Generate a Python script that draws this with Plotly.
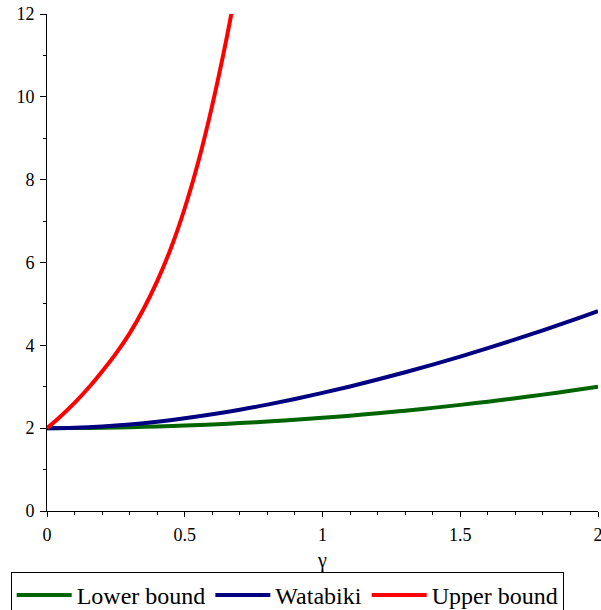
import plotly.graph_objects as go

# Data
gamma_lw = [0.0, 0.1, 0.2, 0.3, 0.4, 0.5, 0.6, 0.7, 0.8, 0.9, 1.0,
            1.1, 1.2, 1.3, 1.4, 1.5, 1.6, 1.7, 1.8, 1.9, 2.0]
lower_bound = [2.0, 2.0025, 2.01, 2.0225, 2.04, 2.0625, 2.09, 2.1225, 2.16, 2.2025, 2.25,
               2.3025, 2.36, 2.4225, 2.49, 2.5625, 2.64, 2.7225, 2.81, 2.9025, 3.0]
watabiki = [2.0, 2.010, 2.040, 2.088, 2.154, 2.237, 2.334, 2.445, 2.569, 2.705, 2.851,
            3.007, 3.174, 3.350, 3.535, 3.729, 3.931, 4.143, 4.363, 4.591, 4.828]

gamma_up = [0.0, 0.05, 0.1, 0.15, 0.2, 0.25, 0.3, 0.35, 0.4, 0.45, 0.5,
            0.55, 0.6, 0.65, 0.7]
upper_bound = [2.0, 2.29, 2.61, 2.97, 3.37, 3.80, 4.29, 4.87, 5.55, 6.35, 7.31,
               8.45, 9.80, 11.35, 13.1]

x_ticks = [0, 0.5, 1, 1.5, 2]
x_labels = ["0", "0.5", "1", "1.5", "2"]
y_ticks = [0, 2, 4, 6, 8, 10, 12]

serif = "Liberation Serif"

fig = go.Figure()
fig.add_trace(go.Scatter(x=gamma_lw, y=lower_bound, mode="lines", name="Lower bound",
                         line=dict(color="#006400", width=4, shape="spline")))
fig.add_trace(go.Scatter(x=gamma_lw, y=watabiki, mode="lines", name="Watabiki",
                         line=dict(color="#000080", width=4, shape="spline")))
fig.add_trace(go.Scatter(x=gamma_up, y=upper_bound, mode="lines", name="Upper bound",
                         line=dict(color="#ff0000", width=4, shape="spline")))

fig.update_layout(
    width=601, height=610,
    margin=dict(l=47, r=3, t=14, b=99, autoexpand=False),
    paper_bgcolor="white", plot_bgcolor="white",
    font=dict(family=serif, size=18, color="black"),
    showlegend=True,
    legend=dict(
        orientation="h",
        xref="container", yref="container",
        x=0.0178, y=0.0623, xanchor="left", yanchor="top",
        bordercolor="black", borderwidth=1,
        font=dict(family=serif, size=24, color="black"),
        itemwidth=55,
        traceorder="normal",
    ),
)
fig.update_xaxes(
    range=[0, 2], tickvals=x_ticks, ticktext=x_labels, automargin=False,
    ticklabeloverflow="allow", ticklabelstandoff=2,
    showline=True, linecolor="black", linewidth=1,
    ticks="outside", ticklen=5, tickwidth=1, tickcolor="black",
    minor=dict(dtick=0.1, ticks="outside", ticklen=3, tickcolor="black", tickwidth=1),
    showgrid=False, zeroline=False,
    title=dict(text="γ", font=dict(family=serif, size=20), standoff=10),
    tickfont=dict(family=serif, size=18),
)
fig.update_yaxes(
    range=[0, 12], tickvals=y_ticks, automargin=False,
    ticklabeloverflow="allow", ticklabelstandoff=2,
    showline=True, linecolor="black", linewidth=1,
    ticks="outside", ticklen=6, tickwidth=1, tickcolor="black",
    minor=dict(dtick=1, ticks="outside", ticklen=3, tickcolor="black", tickwidth=1),
    showgrid=False, zeroline=False,
    tickfont=dict(family=serif, size=18),
)

# remove the default 8px page margin so the figure fills the window
fig.write_html(
    "out.html",
    config={"displayModeBar": False},
    post_script="document.body.style.margin='0';document.body.style.overflow='hidden';",
)
